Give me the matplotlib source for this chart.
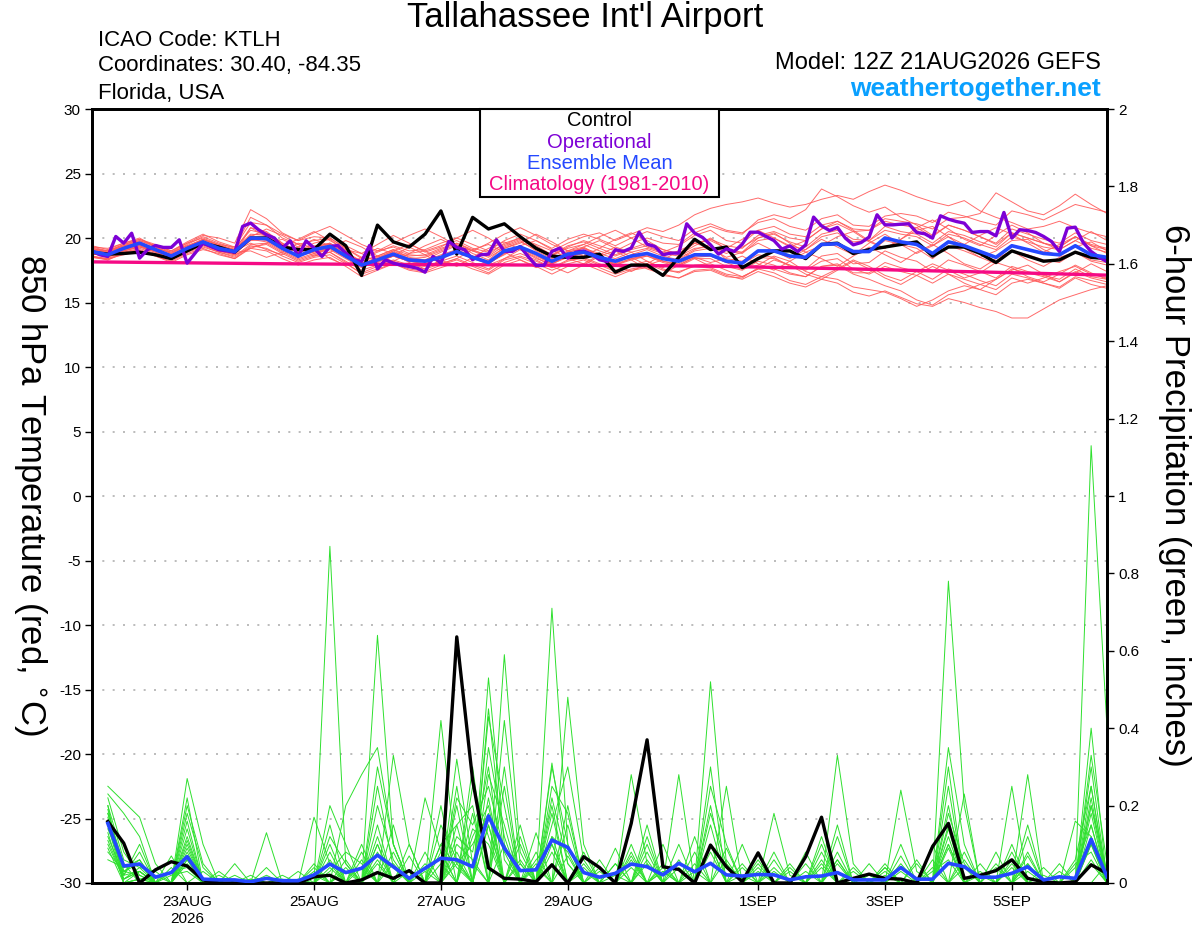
import pandas as pd
import matplotlib
matplotlib.use('Agg')
import matplotlib.pyplot as plt
from matplotlib.patches import Rectangle

plt.rcParams['font.family'] = ['Liberation Sans', 'DejaVu Sans']
plt.rcParams['axes.unicode_minus'] = False

# ---- data ----
run_start = pd.Timestamp('2026-08-21 12:00')
times6 = pd.date_range(run_start, periods=65, freq='6h')
times3 = pd.date_range(run_start, periods=129, freq='3h')
clim_times = pd.date_range(run_start, periods=17, freq='24h')
precip_times = times6[1:]

tick_dates = pd.to_datetime(['2026-08-23', '2026-08-25', '2026-08-27', '2026-08-29',
                             '2026-09-01', '2026-09-03', '2026-09-05'])
tick_labels = ['23AUG\n2026', '25AUG', '27AUG', '29AUG', '1SEP', '3SEP', '5SEP']

temp_ticks = list(range(-30, 31, 5))
precip_ticks = [0, 0.2, 0.4, 0.6, 0.8, 1.0, 1.2, 1.4, 1.6, 1.8, 2.0]
precip_tick_labels = ['0', '0.2', '0.4', '0.6', '0.8', '1', '1.2', '1.4', '1.6', '1.8', '2']

# 850 hPa temperature, 6-hourly
control_temp = [18.9, 18.75, 18.8, 18.9, 18.7, 18.4, 19.0, 19.6, 19.3, 18.9,
                20.0, 20.0, 19.3, 19.1, 19.1, 20.3, 19.4, 17.1, 21.0, 19.7,
                19.3, 20.3, 22.1, 18.75, 21.6, 20.7, 21.1, 20.1, 19.2, 18.6,
                18.5, 18.5, 18.75, 17.35, 17.9, 17.9, 17.1, 18.5, 19.9, 19.1,
                19.3, 17.7, 18.4, 19.0, 19.0, 18.4, 19.5, 19.6, 18.8, 19.1,
                19.3, 19.5, 19.7, 18.6, 19.3, 19.3, 18.8, 18.1, 19.0, 18.6,
                18.2, 18.3, 18.9, 18.5, 18.4]

mean_temp = [18.95, 18.7, 19.2, 19.6, 19.1, 18.6, 19.2, 19.7, 19.2, 18.95,
             20.0, 19.95, 19.2, 18.6, 19.1, 19.35, 18.6, 17.9, 18.3, 18.75,
             18.3, 18.2, 18.5, 18.95, 18.5, 18.1, 19.0, 19.3, 18.8, 18.2,
             18.75, 18.9, 18.5, 18.2, 18.6, 18.8, 18.4, 18.2, 18.7, 18.7,
             18.2, 18.05, 19.0, 19.0, 18.6, 18.5, 19.5, 19.55, 18.95, 18.95,
             20.0, 19.7, 19.5, 18.8, 19.7, 19.4, 18.95, 18.5, 19.4, 19.1,
             18.8, 18.7, 19.4, 18.7, 18.5]

# operational run, 3-hourly
oper_temp = [19.0, 18.7, 18.57, 20.12, 19.6, 20.37, 18.44, 19.09, 19.42, 19.27,
             19.27, 19.86, 18.05, 18.83, 19.6, 19.34, 19.09, 19.0, 18.9, 20.9,
             21.16, 20.64, 20.25, 20.0, 19.22, 19.78, 18.57, 19.78, 19.22, 18.57,
             19.34, 19.42, 18.83, 18.31, 18.18, 19.42, 17.6, 18.31, 18.05, 17.9,
             17.79, 17.66, 17.35, 18.57, 18.05, 19.73, 19.27, 19.09, 18.31, 18.7,
             18.75, 19.86, 18.96, 18.96, 19.34, 18.57, 17.87, 17.87, 18.96, 19.22,
             18.44, 18.9, 19.0, 18.75, 18.31, 18.18, 19.09, 18.96, 19.22, 20.45,
             19.52, 19.34, 18.7, 18.83, 18.83, 21.1, 20.38, 20.04, 19.47, 18.75,
             19.16, 18.96, 19.52, 20.45, 20.45, 20.12, 19.8, 19.14, 19.39, 18.95,
             19.47, 21.62, 20.94, 20.58, 20.82, 19.99, 19.47, 19.65, 20.07, 21.8,
             21.02, 21.02, 21.07, 21.1, 20.43, 20.33, 19.99, 21.72, 21.46, 21.28,
             21.15, 20.43, 20.5, 20.5, 20.17, 21.98, 19.99, 20.64, 20.58, 20.43,
             20.12, 19.73, 18.95, 20.76, 20.84, 19.65, 18.95, 18.51, 18.17]

# climatology (1981-2010), daily
clim_temp = [18.15, 18.1, 18.05, 18.0, 17.97, 17.95, 17.93, 17.9, 17.88,
             17.85, 17.8, 17.7, 17.6, 17.48, 17.37, 17.25, 17.12]

# ensemble members, 6-hourly
member_temp = [
    [19.2, 19.0, 19.5, 19.8, 19.4, 19.0, 19.6, 20.2, 20.0, 19.6, 22.2, 21.5, 20.4, 19.8, 20.1, 20.0, 19.2, 18.5, 19.0, 19.3,
     18.8, 19.0, 19.4, 19.8, 19.2, 18.9, 19.5, 20.0, 19.4, 18.7, 19.2, 19.5, 19.0, 18.6, 19.1, 19.4, 18.9, 18.8, 19.6, 19.8,
     19.2, 19.9, 20.6, 20.0, 19.3, 19.8, 20.7, 21.3, 20.6, 19.8, 19.2, 19.9, 20.8, 21.4, 20.7, 19.9, 19.4, 20.2, 21.0, 20.4,
     19.6, 19.1, 19.8, 20.5, 19.8],
    [18.7, 18.9, 19.3, 19.5, 19.0, 18.5, 19.3, 19.9, 19.5, 19.1, 20.2, 20.4, 19.6, 18.9, 19.3, 19.6, 18.8, 18.2, 18.6, 19.1,
     18.5, 18.3, 18.9, 19.4, 19.0, 18.7, 19.6, 20.0, 19.5, 19.0, 19.6, 20.1, 20.4, 19.8, 20.3, 20.8, 20.5, 21.0, 21.8, 22.3,
     22.6, 22.8, 23.1, 22.7, 22.4, 22.6, 23.0, 23.3, 23.0, 23.6, 24.1, 23.7, 23.2, 22.8, 22.5, 22.9, 22.1, 21.6, 21.2, 20.7,
     20.9, 21.3, 20.8, 20.4, 20.1],
    [18.5, 18.3, 18.8, 19.0, 18.6, 18.1, 18.7, 19.1, 18.8, 18.4, 19.3, 19.5, 18.8, 18.2, 18.6, 18.9, 18.1, 17.2, 17.6, 18.0,
     17.6, 17.4, 17.9, 18.3, 17.8, 17.3, 18.1, 18.5, 18.0, 17.5, 18.0, 18.3, 17.7, 17.2, 17.6, 17.8, 17.1, 16.9, 17.5, 17.6,
     17.1, 16.8, 17.4, 17.0, 16.5, 16.2, 16.8, 16.5, 15.8, 15.5, 15.9, 15.4, 14.9, 14.7, 15.3, 15.0, 14.6, 14.3, 13.8, 13.8,
     14.5, 15.2, 15.6, 16.0, 16.3],
    [19.4, 19.1, 19.6, 20.0, 19.3, 18.8, 19.5, 20.1, 19.6, 19.2, 20.6, 20.3, 19.5, 19.0, 19.6, 19.9, 19.0, 18.0, 18.5, 19.0,
     18.4, 18.5, 19.0, 19.5, 18.8, 18.3, 19.3, 19.8, 19.0, 18.4, 19.0, 19.3, 18.6, 18.0, 18.7, 19.1, 18.6, 18.3, 19.0, 19.2,
     18.5, 18.9, 19.6, 19.0, 18.4, 19.1, 19.9, 19.3, 18.7, 19.6, 20.3, 19.5, 18.8, 19.4, 20.1, 19.2, 18.5, 19.0, 19.8, 19.9,
     19.1, 18.6, 19.3, 19.7, 19.0],
    [18.8, 18.5, 19.0, 19.3, 19.0, 18.6, 19.0, 19.5, 19.0, 18.7, 19.2, 19.6, 19.9, 19.3, 18.6, 18.9, 19.4, 18.8, 18.1, 18.6,
     19.3, 18.7, 18.0, 18.4, 19.1, 19.5, 18.9, 18.3, 17.7, 18.2, 18.9, 19.2, 18.6, 17.9, 17.4, 18.0, 18.7, 19.0, 18.4, 17.8,
     17.9, 17.6, 18.5, 18.4, 17.9, 17.6, 18.6, 18.8, 18.0, 18.1, 19.0, 18.5, 18.2, 17.4, 18.3, 17.9, 17.4, 16.9, 17.8, 17.4,
     17.1, 16.8, 17.6, 17.0, 16.8],
    [19.0, 18.8, 19.3, 19.7, 19.2, 18.9, 19.4, 19.8, 19.3, 19.0, 20.0, 20.1, 19.4, 18.9, 19.2, 19.5, 18.7, 18.0, 18.4, 18.9,
     18.6, 18.7, 19.2, 19.6, 19.0, 18.5, 19.2, 19.7, 19.1, 18.6, 19.3, 19.8, 19.4, 19.0, 19.6, 20.0, 19.6, 19.5, 20.4, 20.9,
     20.5, 20.3, 21.4, 21.8, 21.5, 22.2, 23.8, 23.2, 22.5, 22.0, 22.4, 21.6, 21.0, 20.2, 21.0, 20.6, 20.1, 19.5, 20.4, 20.0,
     19.6, 19.3, 20.1, 19.5, 19.2],
    [18.6, 18.4, 18.9, 19.1, 18.7, 18.3, 18.9, 19.3, 18.9, 18.5, 19.4, 19.2, 18.6, 18.1, 18.5, 18.7, 18.0, 17.3, 17.8, 18.2,
     17.8, 17.6, 18.0, 18.4, 17.9, 17.5, 18.3, 18.6, 18.2, 17.7, 18.2, 18.5, 18.0, 17.5, 17.9, 18.2, 17.6, 17.3, 17.9, 18.0,
     17.5, 17.0, 17.6, 18.3, 17.9, 17.2, 16.8, 17.5, 18.2, 17.6, 16.9, 16.4, 17.1, 17.8, 17.2, 16.5, 16.0, 16.8, 17.5, 17.9,
     17.2, 16.6, 17.3, 18.0, 17.4],
    [19.1, 18.9, 19.4, 19.6, 19.2, 18.7, 19.3, 19.9, 19.4, 19.1, 20.8, 20.1, 19.4, 19.9, 20.5, 19.8, 19.1, 18.8, 19.5, 20.2,
     19.6, 18.9, 19.3, 20.0, 20.6, 20.0, 19.2, 19.6, 20.3, 19.7, 19.0, 18.6, 19.2, 19.9, 20.4, 19.8, 19.1, 18.7, 19.4, 20.0,
     19.1, 18.9, 20.0, 20.3, 19.7, 19.3, 20.3, 20.6, 19.9, 19.8, 20.9, 20.5, 20.3, 19.6, 20.5, 20.2, 19.7, 19.3, 20.4, 20.0,
     19.6, 19.3, 20.1, 19.4, 19.1],
    [18.9, 18.6, 19.1, 19.4, 19.0, 18.5, 19.1, 19.6, 19.1, 18.8, 19.9, 19.7, 19.0, 18.4, 18.8, 19.1, 18.4, 17.7, 18.2, 18.6,
     18.2, 18.0, 18.5, 18.9, 18.4, 18.0, 18.8, 19.2, 18.6, 18.0, 18.6, 18.8, 18.4, 18.0, 18.4, 18.7, 18.2, 18.0, 18.6, 18.6,
     18.1, 18.6, 18.0, 17.5, 18.2, 18.9, 18.4, 17.8, 18.6, 19.3, 18.7, 18.1, 18.9, 19.5, 18.8, 18.0, 17.6, 18.4, 19.0, 18.3,
     17.8, 18.5, 18.9, 18.2, 17.9],
    [19.3, 19.0, 19.5, 19.9, 19.4, 18.9, 19.6, 20.0, 19.5, 19.3, 21.2, 21.0, 20.0, 19.5, 19.8, 20.0, 19.2, 18.4, 18.9, 19.4,
     19.0, 19.1, 19.6, 20.0, 19.5, 19.0, 19.8, 20.3, 19.8, 19.2, 19.9, 20.3, 19.9, 19.4, 20.0, 20.5, 20.1, 19.8, 20.7, 21.1,
     20.6, 20.4, 21.2, 21.5, 20.9, 20.6, 21.5, 21.8, 21.0, 20.9, 21.7, 21.9, 21.7, 21.2, 22.0, 21.7, 21.3, 21.0, 22.1, 21.8,
     21.4, 22.0, 22.6, 22.3, 22.0],
    [18.7, 18.8, 19.2, 19.5, 19.1, 18.7, 19.2, 19.7, 19.2, 18.9, 19.0, 18.5, 18.9, 19.6, 19.2, 18.4, 17.9, 18.5, 19.2, 18.8,
     18.1, 17.6, 18.3, 19.0, 18.6, 17.9, 18.4, 19.1, 18.5, 17.8, 17.3, 17.9, 18.6, 19.0, 18.3, 17.6, 17.2, 17.9, 18.5, 18.1,
     18.4, 18.2, 19.0, 19.1, 18.6, 18.4, 19.4, 19.5, 18.9, 18.9, 19.8, 19.5, 19.2, 18.4, 19.4, 19.0, 18.5, 18.0, 19.0, 18.7,
     18.3, 18.1, 18.9, 18.3, 18.1],
    [18.6, 18.3, 18.9, 19.2, 18.8, 18.4, 19.0, 19.4, 18.9, 18.6, 19.5, 19.6, 18.9, 18.3, 18.7, 18.9, 18.2, 17.5, 17.9, 18.3,
     17.9, 17.8, 18.2, 18.6, 18.1, 17.6, 18.4, 18.8, 18.3, 17.7, 18.3, 18.4, 17.9, 17.4, 17.8, 18.0, 17.5, 17.4, 17.8, 17.7,
     17.2, 17.0, 17.6, 17.3, 16.7, 16.4, 17.0, 16.8, 16.2, 16.0, 15.8, 15.3, 14.7, 15.2, 15.9, 16.3, 16.0, 15.6, 16.5, 16.8,
     16.5, 16.2, 17.0, 16.7, 16.4],
    [19.2, 18.9, 19.4, 19.8, 19.3, 18.8, 19.4, 19.9, 19.4, 19.1, 20.3, 20.2, 19.5, 18.9, 19.3, 19.6, 18.9, 18.2, 18.6, 19.1,
     18.7, 18.6, 19.1, 19.6, 19.1, 18.6, 19.4, 19.9, 19.3, 18.7, 19.4, 19.7, 19.2, 18.7, 19.2, 19.6, 19.1, 18.8, 19.6, 19.9,
     19.4, 19.2, 20.2, 20.5, 20.0, 19.8, 20.7, 21.1, 20.5, 20.6, 21.5, 21.3, 21.1, 20.7, 21.5, 21.6, 21.9, 23.5, 22.8, 22.1,
     21.8, 22.5, 23.4, 22.6, 21.9],
    [18.8, 18.6, 19.0, 19.3, 18.9, 18.4, 19.0, 19.5, 19.0, 18.7, 20.1, 20.7, 20.2, 19.5, 18.8, 19.2, 19.8, 19.3, 18.6, 18.2,
     18.8, 19.4, 19.9, 19.3, 18.6, 18.1, 18.7, 19.4, 19.8, 19.1, 18.4, 18.0, 18.7, 19.3, 18.9, 18.2, 17.7, 18.4, 19.1, 19.5,
     18.3, 18.0, 18.7, 18.5, 17.8, 17.5, 18.2, 18.4, 17.6, 17.2, 17.8, 17.4, 17.1, 16.5, 17.2, 16.8, 16.4, 16.0, 16.9, 16.5,
     16.9, 17.4, 17.8, 17.2, 16.9],
    [19.0, 18.7, 19.2, 19.5, 19.1, 18.6, 19.2, 19.7, 19.1, 18.8, 20.8, 20.5, 19.6, 19.0, 19.4, 19.5, 18.7, 17.8, 18.3, 18.8,
     18.4, 18.2, 18.7, 19.1, 18.6, 18.2, 18.9, 19.3, 18.8, 18.2, 18.9, 19.2, 18.8, 18.4, 18.9, 19.2, 18.8, 18.6, 19.2, 19.3,
     18.8, 19.3, 20.0, 20.4, 19.6, 18.9, 19.4, 20.1, 20.5, 19.7, 19.2, 19.9, 20.6, 20.9, 20.1, 19.5, 20.2, 20.8, 20.3, 19.6,
     18.9, 19.5, 20.1, 19.4, 18.8],
    [18.5, 18.4, 18.7, 19.0, 18.6, 18.2, 18.8, 19.2, 18.7, 18.4, 19.2, 19.0, 18.4, 17.9, 18.3, 18.5, 17.8, 17.0, 17.5, 18.0,
     17.5, 17.3, 17.7, 18.1, 17.6, 17.2, 17.9, 18.3, 17.8, 17.2, 17.8, 18.0, 17.5, 17.0, 17.5, 17.7, 17.2, 16.9, 17.4, 17.5,
     17.0, 16.9, 17.7, 17.6, 17.2, 17.0, 17.8, 18.0, 17.3, 17.3, 18.1, 17.7, 17.4, 16.8, 17.6, 17.2, 16.7, 16.3, 17.2, 16.9,
     16.5, 16.1, 16.9, 16.4, 16.1],
    [19.1, 19.0, 19.4, 19.7, 19.1, 18.7, 19.3, 19.8, 19.3, 19.0, 19.6, 19.1, 18.7, 19.3, 19.9, 19.4, 18.6, 18.0, 18.4, 19.0,
     19.5, 19.0, 18.3, 17.8, 18.5, 19.2, 19.7, 19.1, 18.4, 18.0, 18.6, 19.3, 19.8, 19.2, 18.5, 17.9, 18.3, 19.0, 19.6, 19.2,
     19.0, 18.8, 19.8, 20.0, 19.4, 19.1, 20.1, 20.4, 19.7, 19.8, 20.6, 20.3, 20.1, 19.4, 20.3, 20.0, 19.5, 19.1, 20.1, 19.7,
     19.3, 19.1, 19.8, 19.2, 18.9],
    [18.9, 18.7, 19.1, 19.4, 19.0, 18.6, 19.1, 19.6, 19.2, 18.9, 20.0, 19.8, 19.1, 18.6, 19.0, 19.2, 18.5, 17.8, 18.2, 18.6,
     18.2, 18.3, 18.6, 19.0, 18.5, 18.1, 18.9, 19.3, 18.7, 18.1, 18.7, 18.9, 18.4, 17.9, 18.4, 18.6, 18.2, 17.9, 18.5, 18.6,
     18.1, 17.6, 17.9, 18.6, 18.2, 17.4, 17.0, 17.6, 18.3, 17.8, 17.1, 16.7, 17.4, 18.0, 17.5, 16.9, 17.3, 18.1, 17.7, 17.0,
     16.6, 17.2, 17.9, 17.3, 16.8],
    [18.8, 18.5, 19.0, 19.4, 18.9, 18.5, 19.1, 19.5, 19.0, 18.8, 19.8, 19.9, 19.2, 18.6, 18.9, 19.2, 18.5, 17.8, 18.2, 18.6,
     18.2, 18.0, 18.5, 19.0, 18.5, 18.0, 18.8, 19.2, 18.7, 18.0, 18.5, 18.8, 18.3, 17.9, 18.3, 18.6, 18.1, 17.8, 18.4, 18.4,
     17.8, 17.5, 18.2, 17.9, 17.3, 17.0, 17.8, 17.9, 17.2, 16.8, 16.3, 15.9, 15.2, 14.8, 15.6, 15.9, 16.4, 16.8, 17.6, 17.3,
     17.0, 16.6, 17.4, 16.9, 16.6],
    [19.3, 19.2, 19.6, 19.9, 19.5, 19.0, 19.7, 20.3, 19.7, 19.3, 21.6, 21.0, 20.3, 19.8, 20.4, 20.9, 20.2, 19.5, 19.0, 19.6,
     20.2, 20.7, 20.1, 19.4, 19.0, 19.6, 20.3, 20.8, 20.2, 19.5, 19.0, 19.5, 20.1, 20.6, 20.0, 19.3, 18.9, 19.4, 20.2, 20.6,
     19.8, 19.6, 20.6, 20.9, 20.3, 20.1, 21.0, 21.3, 20.7, 20.6, 21.3, 21.0, 20.8, 20.1, 21.0, 20.6, 20.1, 19.6, 20.7, 20.3,
     19.9, 19.6, 20.4, 19.8, 19.5],
]

# 6-hour precipitation (inches), from 18Z 21AUG
control_precip = [0.159, 0.103, 0, 0.034, 0.055, 0.044, 0.008, 0,
                  0, 0, 0, 0, 0, 0.016, 0.02, 0,
                  0.008, 0.027, 0.012, 0.032, 0, 0, 0.636, 0.266,
                  0.039, 0.012, 0.01, 0.003, 0.047, 0, 0.068, 0.04,
                  0, 0.154, 0.37, 0.042, 0.035, 0, 0.098, 0.042,
                  0.003, 0.078, 0, 0, 0.068, 0.17, 0, 0.012,
                  0.023, 0.012, 0.01, 0, 0.094, 0.154, 0.012, 0.02,
                  0.032, 0.06, 0.012, 0.003, 0, 0.003, 0.047, 0.025]

mean_precip = [0.154, 0.044, 0.049, 0.015, 0.027, 0.068, 0.01, 0.008,
               0.008, 0.003, 0.012, 0.006, 0.006, 0.021, 0.049, 0.027,
               0.038, 0.072, 0.042, 0.012, 0.038, 0.064, 0.06, 0.042,
               0.173, 0.09, 0.032, 0.034, 0.111, 0.092, 0.027, 0.015,
               0.025, 0.049, 0.042, 0.021, 0.051, 0.029, 0.051, 0.021,
               0.018, 0.022, 0.021, 0.008, 0.016, 0.018, 0.027, 0.008,
               0.008, 0.008, 0.04, 0.01, 0.01, 0.051, 0.042, 0.015,
               0.015, 0.025, 0.042, 0.008, 0.016, 0.012, 0.113, 0.016]

member_precip = [
    [.25, .21, .17, .05, 0, .27, .1, 0,   0, 0, 0, 0, 0, 0, .87, .05,   0, .05, 0, 0, 0, .1, .15, 0,
     .53, .1, 0, 0, .05, 0, 0, 0,   0, .08, 0, 0, 0, 0, .52, .05,   0, 0, 0, 0, 0, 0, .05, 0,
     0, 0, 0, 0, 0, .12, 0, 0,   0, 0, .05, 0, 0, 0, .22, 0],
    [.23, .18, .12, 0, 0, .22, 0, 0,   0, 0, .13, 0, 0, 0, 0, .2,   .28, .35, .1, 0, 0, 0, 0, .3,
     0, .59, .08, 0, 0, .48, .1, 0,   0, 0, 0, 0, .28, 0, 0, 0,   .05, 0, 0, 0, 0, .1, 0, 0,
     0, 0, 0, 0, 0, .78, .2, 0,   0, .05, 0, 0, 0, 0, 1.13, .4],
    [.2, 0, .03, 0, 0, .16, 0, 0,   0, 0, 0, 0, 0, .17, .05, 0,   0, .64, .1, 0, 0, 0, .32, .05,
     0, 0, 0, 0, .71, .1, 0, 0,   0, 0, .05, 0, 0, 0, 0, 0,   0, 0, .18, .02, 0, 0, 0, 0,
     0, 0, .24, .03, 0, 0, 0, 0,   0, 0, .28, 0, 0, 0, .05, 0],
    [.18, .05, 0, 0, 0, .12, 0, 0,   .05, 0, 0, 0, 0, 0, 0, 0,   0, 0, .33, .1, 0, .42, .05, 0,
     .43, .2, 0, .13, 0, 0, 0, 0,   0, .28, .05, 0, 0, 0, 0, .25,   0, 0, 0, 0, 0, 0, .33, .05,
     0, 0, 0, 0, 0, 0, .23, 0,   0, .25, 0, 0, 0, 0, .33, .05],
    [.18, .03, .06, 0, .04, 0, 0, .03,   0, 0, 0, 0, 0, .05, 0, 0,   0, 0, 0, 0, .22, .08, 0, 0,
     0, .42, .05, 0, .31, .05, 0, 0,   0, 0, 0, .1, 0, .05, 0, 0,   0, 0, 0, 0, .08, 0, 0, 0,
     0, .05, 0, 0, .1, 0, 0, 0,   .08, 0, 0, 0, 0, .16, .12, 0],
    [.16, .01, .04, 0, .07, 0, 0, 0,   0, .02, 0, 0, 0, 0, .03, .08,   .05, 0, 0, 0, 0, 0, .12, .08,
     .3, 0, 0, 0, .1, 0, .08, 0,   .05, 0, 0, 0, 0, 0, .15, 0,   0, .06, 0, 0, 0, .08, 0, 0,
     0, 0, .07, 0, 0, .15, 0, 0,   0, 0, 0, .04, 0, 0, .18, 0],
    [.15, 0, .01, .02, 0, .08, 0, 0,   0, 0, 0, .02, 0, 0, .1, 0,   0, .15, 0, 0, 0, .2, 0, .25,
     .12, 0, 0, 0, 0, .2, 0, .06,   0, 0, .12, 0, 0, .08, 0, 0,   0, 0, .06, 0, 0, 0, 0, 0,
     .05, 0, 0, 0, 0, .2, 0, .03,   0, 0, 0, 0, .05, 0, .25, 0],
    [.14, .04, .05, 0, 0, .05, 0, 0,   0, 0, 0, 0, .03, 0, 0, .06,   0, .1, 0, .07, 0, 0, .2, 0,
     .22, 0, .15, 0, .18, 0, 0, 0,   0, .06, 0, 0, .1, 0, 0, .09,   0, 0, 0, .05, 0, 0, .06, 0,
     0, 0, 0, 0, .04, 0, .08, 0,   0, 0, .12, 0, 0, 0, 0, .05],
    [.12, .02, .08, 0, 0, 0, .03, 0,   0, 0, .02, 0, 0, 0, 0, 0,   .1, 0, .08, 0, 0, .05, 0, .18,
     0, .25, 0, .05, 0, .15, 0, 0,   .09, 0, 0, .04, 0, 0, .2, 0,   .1, 0, 0, 0, .05, 0, 0, .03,
     0, 0, 0, .06, 0, .09, 0, 0,   0, .1, 0, 0, 0, .04, .15, 0],
    [.1, .01, .03, 0, 0, .1, 0, 0,   0, 0, 0, 0, 0, 0, .15, 0,   0, .08, 0, 0, .05, 0, .25, 0,
     .15, 0, .1, 0, .12, 0, .05, 0,   0, 0, .08, 0, 0, 0, .1, 0,   0, .03, 0, 0, 0, .12, 0, 0,
     0, .03, 0, 0, 0, .25, 0, 0,   .05, 0, 0, 0, 0, 0, .1, 0],
    [.09, 0, .01, 0, .03, .04, 0, 0,   0, .01, 0, 0, 0, .02, 0, 0,   .04, 0, 0, .03, 0, 0, .08, 0,
     .35, .12, 0, .04, 0, .07, 0, 0,   0, .04, 0, 0, .06, 0, 0, 0,   .02, 0, 0, 0, 0, 0, .15, 0,
     0, 0, .1, 0, 0, 0, .04, 0,   0, 0, 0, .02, 0, 0, .2, 0],
    [.08, .03, .02, 0, 0, .18, .04, 0,   0, 0, 0, 0, 0, 0, .2, .1,   0, 0, .05, 0, 0, 0, 0, .12,
     .2, 0, .05, 0, .25, .18, 0, .03,   0, 0, 0, .05, 0, 0, 0, .06,   0, 0, .04, 0, 0, 0, 0, 0,
     .02, 0, 0, 0, 0, .3, 0, .05,   0, 0, .08, 0, 0, 0, .3, 0],
    [.2, .06, .04, .03, 0, .06, 0, 0,   .02, 0, 0, 0, 0, 0, .06, 0,   0, .2, .06, 0, 0, 0, .1, .06,
     0, .3, 0, .08, 0, 0, .04, 0,   0, 0, .15, 0, 0, 0, .25, .1,   0, 0, 0, .03, 0, 0, 0, 0,
     0, .04, 0, 0, .06, 0, 0, 0,   0, .04, 0, 0, 0, .05, .08, 0],
    [.17, .02, .1, 0, 0, .14, 0, .02,   0, 0, 0, 0, .01, 0, 0, .04,   0, .12, 0, 0, 0, .15, .06, 0,
     .45, .06, 0, 0, .08, 0, 0, 0,   .05, 0, 0, 0, 0, .12, 0, 0,   0, .05, 0, 0, 0, .04, 0, 0,
     0, 0, 0, .05, 0, 0, .06, 0,   0, 0, .03, 0, 0, 0, .2, .03],
    [.13, 0, .01, 0, 0, .09, 0, 0,   0, 0, .04, 0, 0, 0, 0, 0,   .06, 0, 0, 0, .08, 0, .05, .1,
     .18, 0, .12, 0, .22, .05, 0, 0,   0, .1, 0, 0, 0, 0, .3, 0,   .04, 0, 0, 0, .03, 0, .12, 0,
     0, 0, .05, 0, 0, .1, 0, 0,   0, .06, 0, 0, .03, 0, .15, 0],
    [.11, .01, .03, 0, 0, .06, 0, 0,   0, 0, 0, .01, 0, 0, .08, 0,   0, .25, .04, 0, 0, 0, .15, .2,
     0, .1, 0, 0, .3, .1, 0, 0,   0, 0, .06, 0, .04, 0, 0, 0,   0, 0, .08, 0, 0, 0, 0, .04,
     0, 0, 0, 0, 0, .18, .05, 0,   0, 0, .07, 0, 0, 0, .12, 0],
    [.06, .04, .06, 0, .02, .03, 0, 0,   0, 0, 0, 0, 0, .04, 0, .03,   0, .06, 0, .1, 0, .08, 0, .14,
     .1, 0, 0, .06, .1, 0, .03, 0,   0, 0, 0, .03, 0, 0, .08, 0,   0, 0, 0, .04, 0, 0, .08, 0,
     0, .02, 0, 0, .03, .06, 0, 0,   .04, 0, 0, 0, 0, 0, .06, 0],
    [.22, .08, .02, 0, 0, .2, .05, 0,   0, 0, 0, 0, 0, 0, .12, .05,   0, .3, .1, 0, 0, 0, .22, .15,
     .25, .08, 0, 0, .15, .3, .06, 0,   0, 0, .1, 0, 0, 0, .18, .05,   0, 0, 0, 0, 0, .06, 0, 0,
     0, 0, 0, 0, 0, .35, .1, 0,   0, 0, .15, 0, 0, 0, .4, 0],
    [.19, .03, .05, 0, 0, .11, 0, 0,   0, 0, 0, 0, 0, .03, 0, 0,   .08, 0, .15, 0, 0, .1, .04, 0,
     .28, .15, 0, 0, .2, 0, 0, .04,   0, .07, 0, 0, 0, .03, 0, 0,   0, .04, 0, 0, 0, 0, .06, 0,
     0, 0, .03, 0, 0, .14, 0, 0,   0, .08, 0, 0, 0, .06, .25, 0],
    [.15, .02, .03, 0, 0, .07, 0, 0,   0, .01, 0, 0, 0, 0, .04, 0,   0, .1, 0, 0, .03, 0, .06, 0,
     .15, 0, .06, 0, .12, .08, 0, 0,   .02, 0, 0, .03, 0, 0, .1, 0,   0, 0, .03, 0, 0, .05, 0, 0,
     0, .04, 0, 0, 0, .1, 0, .02,   0, 0, .05, 0, 0, 0, .1, 0],
]

legend_items = [('Control', 'black'), ('Operational', '#7d00d6'),
                ('Ensemble Mean', '#2448ff'), ('Climatology (1981-2010)', '#f50a85')]

# ---- figure ----
W, H = 1200, 927
fig = plt.figure(figsize=(W / 100, H / 100), dpi=100)
ax = fig.add_axes([92 / W, 1 - 883 / H, (1107 - 92) / W, (883 - 109) / H])
ax2 = ax.twinx()

for m in member_temp:
    ax.plot(times6, m, color='#ff5a5a', lw=0.7, alpha=0.9, zorder=2)
ax.plot(clim_times, clim_temp, color='#f50a85', lw=2.4, zorder=3)
ax.plot(times6, control_temp, color='black', lw=2.4, zorder=4)
ax.plot(times3, oper_temp, color='#7d00d6', lw=2.4, zorder=5)
ax.plot(times6, mean_temp, color='#2448ff', lw=2.6, zorder=6)

for m in member_precip:
    ax2.plot(precip_times, m, color='#2ee02e', lw=0.7, zorder=2)
ax2.plot(precip_times, control_precip, color='black', lw=2.4, zorder=4)
ax2.plot(precip_times, mean_precip, color='#2448ff', lw=2.6, zorder=6)

ax.set_xlim(times6[0], times6[-1])
ax.set_ylim(-30, 30)
ax2.set_ylim(0, 2)

ax.set_yticks(temp_ticks)
ax.set_yticklabels([str(t) for t in temp_ticks])
ax2.set_yticks(precip_ticks)
ax2.set_yticklabels(precip_tick_labels)
ax.set_xticks(tick_dates)
ax.set_xticklabels(tick_labels)

ax.yaxis.grid(True, linestyle=(0, (1.2, 5)), color='#b0b0b0', lw=1.2)
ax.set_axisbelow(True)

for a in (ax, ax2):
    for s in a.spines.values():
        s.set_linewidth(2.0)
    a.tick_params(labelsize=11, length=5, width=1, direction='out', pad=3)
ax.tick_params(axis='x', pad=4)

# labels
fig.text(30 / W, 1 - 495 / H, r'850 hPa Temperature (red, $^{\circ}$C)', rotation=270,
         ha='center', va='center', fontsize=25)
fig.text(1174 / W, 1 - 495 / H, '6-hour Precipitation (green, inches)', rotation=270,
         ha='center', va='center', fontsize=25)

fig.text(585 / W, 1 - 18 / H, "Tallahassee Int'l Airport", ha='center', va='center', fontsize=25)
fig.text(98 / W, 1 - 40 / H, 'ICAO Code: KTLH', ha='left', va='center', fontsize=16)
fig.text(98 / W, 1 - 66 / H, 'Coordinates: 30.40, -84.35', ha='left', va='center', fontsize=16)
fig.text(98 / W, 1 - 93 / H, 'Florida, USA', ha='left', va='center', fontsize=16)
fig.text(1101 / W, 1 - 63 / H, 'Model: 12Z 21AUG2026 GEFS', ha='right', va='center', fontsize=17)
fig.text(1101 / W, 1 - 89 / H, 'weathertogether.net', ha='right', va='center',
         fontsize=19, fontweight='bold', color='#0aa0ff')

# legend box
fig.add_artist(Rectangle((480 / W, 1 - 197 / H), 239 / W, 88 / H, transform=fig.transFigure,
                         facecolor='white', edgecolor='black', lw=1.5, zorder=10))
for k, (name, col) in enumerate(legend_items):
    fig.text(599.5 / W, 1 - (121 + 21.3 * k) / H, name, ha='center', va='center',
             fontsize=14.5, color=col, zorder=11)

fig.savefig('out.png', dpi=100)
